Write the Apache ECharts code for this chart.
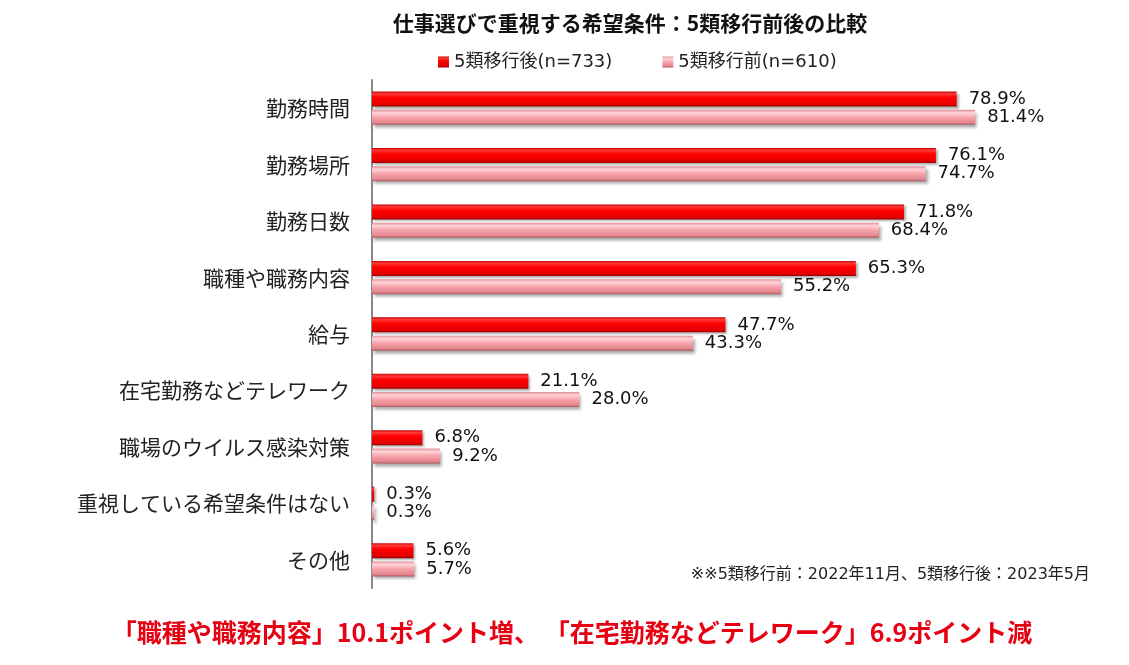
<!DOCTYPE html>
<html>
<head>
<meta charset="utf-8">
<script src="https://cdn.jsdelivr.net/npm/echarts@6/dist/echarts.min.js"></script>
<style>
  html, body { margin: 0; padding: 0; background: #fff; }
  #main { width: 1129px; height: 665px; }
</style>
</head>
<body>
<div id="main"></div>
<script>
// 項目
var categories = ['勤務時間', '勤務場所', '勤務日数', '職種や職務内容', '給与',
    '在宅勤務などテレワーク', '職場のウイルス感染対策', '重視している希望条件はない', 'その他'];
// 5類移行後(n=733)
var afterValues = [78.9, 76.1, 71.8, 65.3, 47.7, 21.1, 6.8, 0.3, 5.6];
// 5類移行前(n=610)
var beforeValues = [81.4, 74.7, 68.4, 55.2, 43.3, 28.0, 9.2, 0.3, 5.7];
var seriesNames = ['5類移行後(n=733)', '5類移行前(n=610)'];

var jp = '"Noto Sans CJK JP", sans-serif';
var mixed = '"DejaVu Sans", "Noto Sans CJK JP", sans-serif';
var chart = echarts.init(document.getElementById('main'));

// 立体風のグラデーション
var redFill = new echarts.graphic.LinearGradient(0, 0, 0, 1, [
    {offset: 0, color: '#c80000'},
    {offset: 0.15, color: '#ff3a3a'},
    {offset: 0.4, color: '#ff0000'},
    {offset: 0.85, color: '#e60000'},
    {offset: 1, color: '#9a0000'}
]);
var pinkFill = new echarts.graphic.LinearGradient(0, 0, 0, 1, [
    {offset: 0, color: '#e0909a'},
    {offset: 0.2, color: '#ffd4d8'},
    {offset: 0.5, color: '#f7a3ab'},
    {offset: 0.85, color: '#e5878f'},
    {offset: 1, color: '#b05a64'}
]);

var labelStyle = {
    show: true,
    position: 'right',
    distance: 12,
    fontFamily: '"DejaVu Sans", sans-serif',
    fontSize: 18,
    color: '#111',
    formatter: function (p) { return p.value.toFixed(1) + '%'; }
};

var option = {
    animation: false,
    backgroundColor: '#fff',
    legend: {
        data: seriesNames,
        left: 433,
        top: 48,
        itemWidth: 11,
        itemHeight: 11,
        itemGap: 50,
        icon: 'rect',
        textStyle: {fontFamily: mixed, fontSize: 18, color: '#222'}
    },
    grid: {left: 372, right: 16, top: 80, bottom: 77},
    xAxis: {
        type: 'value',
        min: 0,
        max: 100,
        show: false
    },
    yAxis: {
        type: 'category',
        data: categories,
        inverse: true,
        axisLine: {lineStyle: {color: '#888', width: 2}},
        axisTick: {show: false},
        axisLabel: {fontFamily: jp, fontSize: 21, color: '#222', margin: 22}
    },
    series: [
        {
            name: seriesNames[0],
            type: 'bar',
            data: afterValues,
            barWidth: 15,
            barGap: '22%',
            itemStyle: {
                color: redFill,
                shadowColor: 'rgba(0,0,0,0.3)',
                shadowBlur: 2,
                shadowOffsetX: 2,
                shadowOffsetY: 2
            },
            label: labelStyle
        },
        {
            name: seriesNames[1],
            type: 'bar',
            data: beforeValues,
            barWidth: 15,
            itemStyle: {
                color: pinkFill,
                shadowColor: 'rgba(0,0,0,0.35)',
                shadowBlur: 3,
                shadowOffsetX: 2,
                shadowOffsetY: 3
            },
            label: labelStyle
        }
    ],
    graphic: [
        {
            type: 'text', x: 630, y: 23,
            style: {
                text: '仕事選びで重視する希望条件：5類移行前後の比較',
                font: 'bold 21px "Noto Sans CJK JP", sans-serif', fill: '#111',
                align: 'center', verticalAlign: 'middle'
            }
        },
        {
            type: 'text', x: 1090, y: 575,
            style: {
                text: '※※5類移行前：2022年11月、5類移行後：2023年5月',
                font: '16px "DejaVu Sans", "Noto Sans CJK JP", sans-serif', fill: '#222',
                align: 'right', verticalAlign: 'middle'
            }
        },
        {
            type: 'text', x: 572, y: 632,
            style: {
                text: '「職種や職務内容」10.1ポイント増、 「在宅勤務などテレワーク」6.9ポイント減',
                font: 'bold 25px "Noto Sans CJK JP", sans-serif', fill: '#e60012',
                align: 'center', verticalAlign: 'middle'
            }
        }
    ]
};

chart.setOption(option);
</script>
</body>
</html>
